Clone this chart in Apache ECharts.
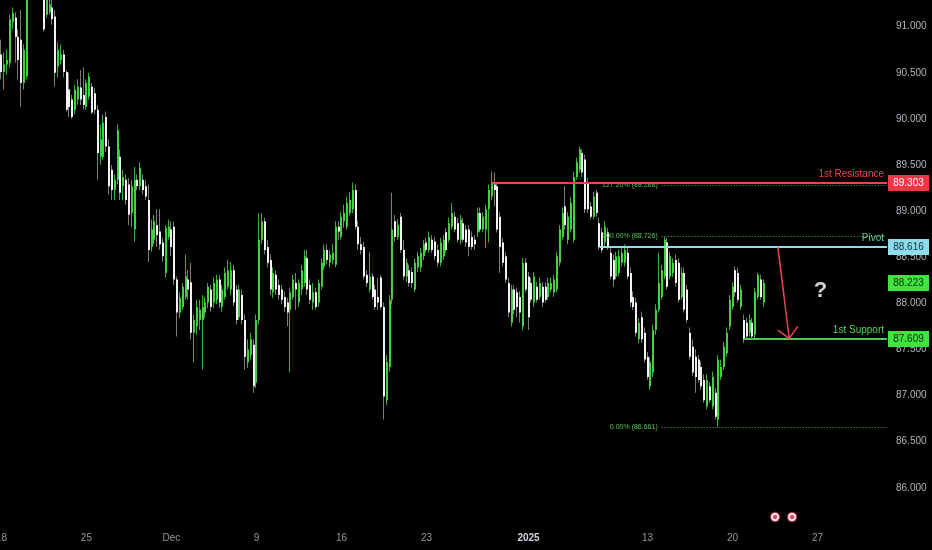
<!DOCTYPE html>
<html><head><meta charset="utf-8">
<script src="https://cdn.jsdelivr.net/npm/echarts@6/dist/echarts.min.js"></script>
<style>html,body{margin:0;padding:0;background:#000;}#chart{width:932px;height:550px;}</style>
</head><body><div id="chart"></div>
<script>
// ---- data (4H candles, one slot per candle) ----
const opens = [
90.70,90.51,90.59,90.61,91.05,91.10,90.89,90.86,90.39,90.46,
91.51,91.84,91.67,91.94,91.62,91.40,91.13,91.16,91.21,91.11,
90.57,90.64,90.70,90.51,90.32,90.21,90.10,90.21,90.34,90.26,
90.13,90.24,90.35,90.28,90.10,89.59,89.59,90.02,89.70,89.45,
89.23,89.34,89.59,89.27,89.34,89.29,88.98,88.80,89.34,89.27,
89.34,89.27,89.12,88.61,88.69,88.85,88.78,88.66,88.33,88.72,
88.80,88.83,88.26,87.90,87.96,88.07,88.26,88.23,87.68,87.75,
87.82,87.82,87.90,88.01,88.15,88.01,88.04,88.26,87.96,88.07,
88.18,88.15,88.36,88.15,87.85,88.09,87.82,87.36,87.44,87.55,
87.14,87.82,88.69,88.89,88.61,88.47,88.12,88.31,88.20,88.15,
88.07,88.01,87.93,88.07,88.22,88.01,88.15,88.22,88.49,88.20,
88.01,88.12,88.01,88.18,88.40,88.58,88.44,88.47,88.42,88.83,
88.72,88.89,88.83,88.98,89.02,89.23,88.83,88.64,88.61,88.31,
88.15,88.29,88.15,88.07,88.28,87.96,86.95,87.31,88.04,88.89,
88.72,88.94,88.58,88.29,88.36,88.34,88.15,88.39,88.39,88.51,
88.66,88.58,88.69,88.67,88.58,88.44,88.51,88.77,88.69,88.83,
88.94,88.87,88.69,88.87,88.80,88.80,88.72,88.69,88.77,88.98,
88.80,88.80,89.02,89.16,89.29,89.27,88.94,88.66,88.51,88.22,
87.79,88.15,88.12,88.07,87.75,88.44,88.29,88.22,88.01,88.18,
88.07,88.18,88.18,88.07,88.15,88.12,88.15,88.44,88.72,89.05,
88.69,88.80,88.69,89.37,89.45,89.63,89.56,89.31,89.05,88.94,
89.20,88.87,88.77,88.66,88.77,88.55,88.47,88.29,88.33,88.44,
88.44,88.55,88.33,88.07,88.01,87.61,87.85,87.68,87.42,87.10,
87.25,87.71,87.93,88.07,88.29,88.66,88.29,88.33,88.47,88.44,
88.07,88.33,88.15,87.68,87.53,87.42,87.39,87.31,87.17,86.88,
87.10,86.88,87.03,86.74,87.20,87.31,87.46,87.75,87.96,88.36,
88.33,87.96,87.82,87.79,87.68,87.79,87.66,88.07,88.26,88.01];
const closes = [
90.51,90.59,90.64,91.08,91.15,90.89,90.64,90.39,90.75,91.51,
91.84,91.67,91.94,91.62,91.40,90.97,91.29,91.24,91.08,90.50,
90.75,90.70,90.51,90.10,90.13,90.02,90.32,90.35,90.21,90.15,
90.39,90.46,90.07,90.10,89.63,89.78,89.96,89.70,89.27,89.23,
89.34,89.88,89.20,89.37,89.12,88.96,89.27,89.34,89.27,89.47,
89.23,89.16,88.58,88.80,88.89,88.74,88.64,88.51,88.82,88.83,
88.61,88.26,87.90,88.06,88.18,88.29,88.15,87.68,87.82,87.96,
87.93,87.96,88.01,88.18,87.96,88.22,88.26,88.01,88.15,88.33,
88.36,88.36,88.01,87.82,88.15,87.82,87.42,87.50,87.61,87.10,
87.82,88.69,88.89,88.58,88.44,88.15,88.33,88.15,88.09,88.04,
87.96,87.90,88.12,88.26,88.15,88.22,88.36,88.51,88.15,88.04,
88.12,87.96,88.22,88.44,88.58,88.47,88.53,88.55,88.83,88.78,
88.94,88.98,89.09,89.12,89.23,88.83,88.64,88.58,88.29,88.22,
88.29,88.07,87.96,88.01,87.96,86.99,87.36,88.04,88.80,88.72,
88.85,88.58,88.29,88.44,88.22,88.22,88.44,88.51,88.55,88.64,
88.58,88.72,88.58,88.51,88.44,88.66,88.69,88.58,88.87,88.98,
88.80,88.69,88.91,88.69,88.66,88.61,88.61,88.64,88.98,88.80,
88.94,89.02,89.23,89.31,89.23,88.80,88.61,88.44,88.26,87.90,
88.15,87.93,87.96,87.90,88.44,88.15,87.85,88.04,88.29,88.04,
88.22,88.01,88.04,88.22,88.22,88.26,88.51,88.80,88.98,88.85,
88.94,89.09,89.37,89.53,89.67,89.42,89.02,89.02,88.94,89.16,
88.98,88.61,88.58,88.83,88.61,88.29,88.26,88.51,88.51,88.55,
88.58,88.29,88.01,87.96,87.68,87.79,87.61,87.39,87.20,87.36,
87.71,87.93,88.22,88.36,88.69,88.18,88.51,88.44,88.22,88.04,
88.33,87.93,87.82,87.42,87.25,87.20,87.17,87.10,86.95,87.17,
86.95,87.20,86.77,87.39,87.31,87.53,87.68,88.04,88.18,88.12,
88.04,88.15,87.61,87.64,87.82,87.64,88.12,88.31,88.07,88.22];
const highs = [
90.86,90.72,90.75,91.13,91.21,91.16,90.97,91.18,90.81,91.62,
91.94,91.89,91.99,91.99,91.67,91.51,91.40,91.35,91.29,91.18,
90.83,90.81,90.75,90.53,90.50,90.26,90.37,90.43,90.53,90.56,
90.43,90.50,90.39,90.34,90.15,89.94,90.05,90.08,89.78,89.50,
89.40,89.94,89.67,89.45,89.40,89.36,89.34,89.48,89.40,89.53,
89.40,89.34,89.29,88.91,88.96,89.02,89.02,88.71,88.85,88.91,
88.89,88.89,88.29,88.12,88.22,88.53,88.36,88.44,87.88,88.04,
88.04,88.09,88.07,88.22,88.20,88.28,88.31,88.31,88.20,88.39,
88.47,88.45,88.42,88.20,88.20,88.15,87.88,87.61,87.68,87.61,
87.88,88.98,88.98,88.93,88.69,88.53,88.39,88.36,88.26,88.20,
88.13,88.06,88.17,88.31,88.33,88.26,88.42,88.58,88.58,88.26,
88.22,88.17,88.26,88.49,88.64,88.64,88.58,88.64,88.89,88.89,
88.99,89.07,89.15,89.21,89.31,89.29,88.89,88.72,88.67,88.36,
88.55,88.33,88.20,88.28,88.31,88.01,87.44,88.09,89.20,88.96,
88.91,88.98,88.69,88.49,88.42,88.39,88.49,88.56,88.60,88.69,
88.71,88.78,88.74,88.72,88.64,88.71,88.74,88.82,88.93,89.09,
88.99,88.93,88.96,88.93,88.85,88.85,88.78,88.74,89.04,89.04,
88.99,89.07,89.29,89.43,89.42,89.31,88.99,88.71,88.56,88.28,
88.20,88.20,88.17,88.13,88.49,88.49,88.34,88.28,88.34,88.23,
88.28,88.23,88.23,88.28,88.28,88.31,88.56,88.85,89.04,89.27,
88.99,89.15,89.43,89.58,89.70,89.67,89.61,89.36,89.10,89.21,
89.23,88.93,88.82,88.89,88.82,88.60,88.53,88.56,88.58,88.60,
88.64,88.60,88.39,88.13,88.06,87.84,87.91,87.74,87.47,87.41,
87.77,87.99,88.55,88.42,88.72,88.71,88.56,88.49,88.53,88.49,
88.39,88.39,88.20,87.74,87.61,87.50,87.44,87.37,87.23,87.23,
87.15,87.26,87.08,87.44,87.39,87.58,87.74,88.09,88.23,88.40,
88.39,88.20,87.88,87.84,87.88,87.84,88.17,88.33,88.31,88.26];
const lows = [
90.43,90.32,90.48,90.56,90.97,90.61,90.43,90.13,90.32,90.43,
91.46,91.62,91.62,91.56,91.35,90.95,91.10,91.13,91.02,90.35,
90.45,90.59,90.45,90.08,90.02,90.00,90.05,90.15,90.15,90.10,
90.10,90.21,90.05,90.05,89.34,89.50,89.56,89.64,89.18,89.12,
89.12,89.29,89.12,89.12,89.07,88.85,88.83,88.67,89.23,89.23,
89.18,89.12,88.45,88.56,88.64,88.61,88.58,88.45,88.28,88.69,
88.51,88.20,87.64,87.84,87.93,88.04,88.04,87.61,87.36,87.66,
87.71,87.28,87.84,87.95,87.91,87.95,87.99,87.95,87.91,88.04,
88.15,88.09,87.97,87.77,87.82,87.77,87.28,87.30,87.39,87.03,
87.08,87.77,88.64,88.53,88.39,88.09,88.06,88.09,88.04,87.99,
87.91,87.75,87.25,88.04,87.93,87.96,88.09,88.18,88.09,87.99,
87.93,87.93,87.96,88.15,88.36,88.42,88.39,88.42,88.39,88.69,
88.69,88.82,88.80,88.95,88.98,88.80,88.58,88.53,88.26,88.18,
88.12,88.04,87.93,87.93,87.93,86.74,86.90,87.26,87.99,88.67,
88.69,88.55,88.26,88.23,88.18,88.17,88.12,88.34,88.34,88.47,
88.55,88.55,88.55,88.47,88.40,88.40,88.47,88.55,88.66,88.80,
88.77,88.66,88.64,88.66,88.61,88.51,88.58,88.58,88.72,88.77,
88.77,88.60,88.66,89.12,89.05,88.77,88.33,88.40,88.22,87.85,
87.75,87.88,87.85,87.79,87.71,88.12,87.71,88.01,87.96,88.01,
88.04,87.96,88.01,88.04,88.12,88.07,88.12,88.40,88.69,88.80,
88.64,88.77,88.66,89.34,89.42,89.37,88.98,88.98,88.91,88.91,
88.94,88.58,88.55,88.61,88.58,88.26,88.18,88.26,88.29,88.40,
88.40,88.26,87.96,87.93,87.64,87.57,87.57,87.36,87.17,87.06,
87.20,87.66,87.90,88.04,88.26,88.15,88.26,88.29,88.18,88.01,
88.04,87.90,87.79,87.39,87.21,87.03,87.14,87.06,86.92,86.85,
86.92,86.85,86.74,86.66,87.17,87.28,87.42,87.71,87.93,88.07,
88.01,87.93,87.57,87.61,87.64,87.61,87.61,88.04,88.04,87.96];

const totalSlots = 313;
const tickIndex = [0, 30, 60, 90, 120, 150, 186, 228, 258, 288];
const tickText  = ['18', '25', 'Dec', '9', '16', '23', '2025', '13', '20', '27'];

const levelNames  = ['1st Resistance', 'Pivot', '1st Support'];
const levelValues = [89.303, 88.616, 87.609];
const levelStart  = [173, 211, 262];
const currentPrice = 88.223;

const fibLabels = ['127.20% (89.288)', '100.00% (88.726)', '0.00% (86.661)'];
const fibValues = [89.288, 88.726, 86.661];
const fibStart = 233;

const arrowShaft = [[274, 88.61], [278, 87.62]];
const arrowHead  = [[274, 87.71], [278, 87.62], [281, 87.75]];
const questionAt = [289, 88.13];
const eventIdx = [273, 279];

const priceMin = 85.607, priceMax = 91.29;

// ---- chart ----
const FONT = 'Liberation Sans';
const GRID = {left: 0, right: 45, top: 0, height: 524, outerBoundsMode: 'none', containLabel: false};
const chart = echarts.init(document.getElementById('chart'), null, {renderer: 'canvas'});
const slots = Array.from({length: totalSlots}, (_, i) => String(i));
const candleData = opens.map((o, i) => [i, o, closes[i], lows[i], highs[i]]);

function renderCandle(params, api) {
  const i = api.value(0), o = api.value(1), c = api.value(2), l = api.value(3), h = api.value(4);
  const pO = api.coord([i, o]), pC = api.coord([i, c]);
  const pL = api.coord([i, l]), pH = api.coord([i, h]);
  const xi = Math.round(pO[0]);
  const up = c >= o;
  const top = Math.min(pO[1], pC[1]), bot = Math.max(pO[1], pC[1]);
  return {type: 'group', children: [
    {type: 'line', shape: {x1: xi - 0.5, y1: pH[1], x2: xi - 0.5, y2: pL[1]},
     style: {stroke: up ? '#34b034' : '#7c7c7c', lineWidth: 1}},
    {type: 'rect', shape: {x: xi - 1, y: top, width: 2, height: Math.max(1, bot - top)},
     style: {fill: up ? '#43d043' : '#f2f2f2'}}
  ]};
}

chart.setOption({
  animation: false,
  backgroundColor: '#000000',
  grid: GRID,
  xAxis: {
    type: 'category', data: slots, boundaryGap: true,
    axisLine: {show: false}, axisTick: {show: false}, splitLine: {show: false},
    axisLabel: {
      interval: (idx) => tickIndex.indexOf(idx) >= 0,
      formatter: (val, idx) => {
        const k = tickIndex.indexOf(idx);
        if (k < 0) return '';
        const t = tickText[k];
        return t === '2025' ? '{b|' + t + '}' : t;
      },
      color: '#9598a1', fontSize: 10, fontFamily: FONT, margin: 9,
      rich: {b: {fontWeight: 'bold', color: '#d1d4dc', fontSize: 10, fontFamily: FONT}}
    }
  },
  yAxis: {
    type: 'value', position: 'right', min: priceMin, max: priceMax, splitNumber: 11,
    axisLine: {show: false}, axisTick: {show: false}, splitLine: {show: false},
    axisLabel: {formatter: v => v.toFixed(3), color: '#b2b5be', fontSize: 10, fontFamily: FONT,
      margin: 9, align: 'left', showMinLabel: false, showMaxLabel: false}
  },
  series: [{type: 'custom', renderItem: renderCandle, data: candleData,
            encode: {x: 0, y: [1, 2, 3, 4]}, clip: true, z: 2}]
});

// ---- annotations placed through the axes ----
const P = (i, v) => chart.convertToPixel({xAxisIndex: 0, yAxisIndex: 0}, [i, v]);
const R = 932 - GRID.right;
const els = [];
const levelColors = ['#ee4452', '#8fdcec', '#4cc94c'];
const levelTextColors = ['#f2425a', '#5fd39c', '#52d852'];

// fib dotted levels
fibValues.forEach((v, k) => {
  const p = P(fibStart, v);
  const y = Math.round(p[1]) + 0.5;
  els.push({type: 'line', z: 20, shape: {x1: p[0], y1: y, x2: R, y2: y},
    style: {stroke: '#4caf50', lineWidth: 1, lineDash: [1, 2]}});
  els.push({type: 'text', z: 21, style: {text: fibLabels[k], x: p[0] - 4, y: y,
    textAlign: 'right', textVerticalAlign: 'middle', fill: '#5cc35c', font: '7px ' + FONT}});
});

// level lines
levelValues.forEach((v, k) => {
  const p = P(levelStart[k], v);
  const y = Math.round(p[1]);
  els.push({type: 'line', z: 22, shape: {x1: p[0], y1: y, x2: R, y2: y},
    style: {stroke: levelColors[k], lineWidth: 2}});
  els.push({type: 'text', z: 23, style: {text: levelNames[k], x: R - 3, y: y - 9,
    textAlign: 'right', textVerticalAlign: 'middle', fill: levelTextColors[k], font: '10px ' + FONT}});
});

// price boxes on the axis
const boxVals = [levelValues[0], levelValues[1], currentPrice, levelValues[2]];
const boxFill = ['#f23645', '#8fdcec', '#3ee53e', '#3ee53e'];
const boxText = ['#ffffff', '#10303c', '#0c2a0c', '#0c2a0c'];
boxVals.forEach((v, k) => {
  const y = Math.round(P(0, v)[1]);
  els.push({type: 'rect', z: 30, shape: {x: R + 1, y: y - 8, width: 41, height: 16},
    style: {fill: boxFill[k]}});
  els.push({type: 'text', z: 31, style: {text: v.toFixed(3), x: R + 21.5, y: y,
    textAlign: 'center', textVerticalAlign: 'middle', fill: boxText[k], font: '10px ' + FONT}});
});

// arrow
els.push({type: 'polyline', z: 25, shape: {points: arrowShaft.map(a => P(a[0], a[1]))},
  style: {stroke: '#ee4452', lineWidth: 1.5, fill: null}});
els.push({type: 'polyline', z: 25, shape: {points: arrowHead.map(a => P(a[0], a[1]))},
  style: {stroke: '#ee4452', lineWidth: 1.5, fill: null}});

// question mark
const q = P(questionAt[0], questionAt[1]);
els.push({type: 'text', z: 25, style: {text: '?', x: q[0], y: q[1], textAlign: 'center',
  textVerticalAlign: 'middle', fill: '#d4d4d4', font: 'bold 22px ' + FONT}});

// event icons on the time scale
eventIdx.forEach(i => {
  const x = P(i, 88)[0];
  const y = 517;
  els.push({type: 'circle', z: 26, shape: {cx: x, cy: y, r: 5.5}, style: {fill: '#7a1d32'}});
  els.push({type: 'circle', z: 27, shape: {cx: x, cy: y, r: 4.2}, style: {fill: '#f3e6ea'}});
  els.push({type: 'circle', z: 28, shape: {cx: x, cy: y, r: 2.2}, style: {fill: '#e2486a'}});
});

chart.setOption({graphic: {elements: els}});
</script>
</body></html>
